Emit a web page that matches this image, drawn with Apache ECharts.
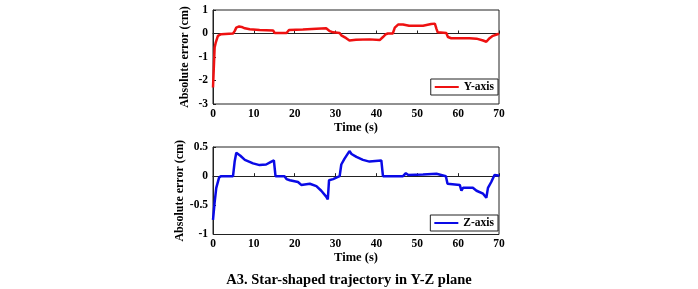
<!DOCTYPE html>
<html>
<head>
<meta charset="utf-8">
<script src="https://cdn.jsdelivr.net/npm/echarts@6/dist/echarts.min.js"></script>
<style>
  html, body { margin: 0; padding: 0; background: #fff; }
  #chart { width: 698px; height: 289px; }
</style>
</head>
<body>
<div id="chart"></div>
<script>
// Y-axis error, [time s, error cm]
const yErr = [
  [0, -2.3], [0.2, -2.3], [0.4, -0.6], [0.65, -0.4], [1.2, -0.1], [2, -0.03], [4.9, 0.0],
  [5.3, 0.1], [5.7, 0.25], [6.4, 0.3], [7, 0.28], [7.8, 0.22], [9, 0.18], [11.4, 0.15],
  [14.7, 0.13], [15.1, 0.02], [18, 0.02], [18.6, 0.15], [22, 0.17], [25.3, 0.2], [27.7, 0.22],
  [28.1, 0.25], [28.6, 0.1], [29.4, 0.05], [31, 0.02], [31.4, -0.08], [32.6, -0.2], [33.4, -0.3],
  [35, -0.27], [38.3, -0.25], [40.8, -0.28], [41.2, -0.35], [41.6, -0.15], [42.3, -0.03],
  [42.8, 0.0], [44, 0.0], [44.5, 0.25], [45.3, 0.38], [45.7, 0.42], [46.5, 0.38], [48, 0.33],
  [51.4, 0.33], [53.4, 0.4], [54.3, 0.42], [54.7, 0.2], [55, 0.05], [57.1, 0.02], [57.5, -0.15],
  [58.3, -0.2], [62.8, -0.2], [64.5, -0.22], [66.1, -0.3], [66.9, -0.35], [67.3, -0.42],
  [67.7, -0.2], [68.5, -0.1], [69.8, -0.02], [70, 0.0]
];
// Z-axis error, [time s, error cm]
const zErr = [
  [0, -0.75], [0.4, -0.45], [0.8, -0.2], [1.5, -0.02], [2, 0.0], [4.9, 0.0], [5.3, 0.25],
  [5.7, 0.4], [6.1, 0.43], [6.7, 0.35], [7.8, 0.28], [9.8, 0.22], [11.4, 0.19], [13, 0.2],
  [14.3, 0.25], [14.9, 0.27], [15.3, 0.0], [17.5, 0.0], [18, -0.05], [18.8, -0.07], [20.8, -0.1],
  [21.6, -0.15], [23.7, -0.13], [25.3, -0.17], [26.5, -0.25], [27.7, -0.35], [28.1, -0.4],
  [28.4, -0.07], [29.4, -0.05], [31, 0.0], [31.4, 0.2], [32.2, 0.3], [33.4, 0.43], [33.9, 0.38],
  [35.1, 0.33], [36.7, 0.28], [38.3, 0.25], [41.2, 0.27], [41.6, 0.0], [46.5, 0.0], [47.2, 0.05],
  [47.8, 0.02], [51.4, 0.03], [54.7, 0.04], [57, 0.0], [57.4, -0.13], [60.4, -0.15], [60.8, -0.25],
  [61.2, -0.2], [63.6, -0.2], [64.5, -0.25], [66.1, -0.3], [66.9, -0.37], [67.3, -0.2],
  [68.1, -0.1], [68.9, 0.02], [69.3, 0.0], [69.8, 0.01], [70, 0.0]
];
const seriesNames = ['Y-axis', 'Z-axis'];
const seriesColors = ['#ee1111', '#0a0ae6'];
const chartTitle = 'A3. Star-shaped trajectory in Y-Z plane';

const font = 'Liberation Serif';
const chart = echarts.init(document.getElementById('chart'));

function xAxisFor(gridIndex) {
  return {
    type: 'value', gridIndex: gridIndex, min: 0, max: 70, interval: 10,
    name: 'Time (s)', nameLocation: 'middle', nameGap: 17,
    nameTextStyle: { fontFamily: font, fontWeight: 'bold', fontSize: 12.5, color: '#000' },
    axisLine: { show: true, lineStyle: { color: '#222', width: 1 } },
    axisTick: { inside: true, length: 3, lineStyle: { color: '#222' } },
    axisLabel: { fontFamily: font, fontWeight: 'bold', fontSize: 11.5, color: '#000', margin: 4 },
    splitLine: { show: false }
  };
}
function yAxisFor(gridIndex, min, max, interval) {
  return {
    type: 'value', gridIndex: gridIndex, min: min, max: max, interval: interval,
    name: 'Absolute error (cm)', nameLocation: 'middle', nameGap: 22,
    nameTextStyle: { fontFamily: font, fontWeight: 'bold', fontSize: 12, color: '#000' },
    axisLine: { show: true, lineStyle: { color: '#222', width: 1 } },
    axisTick: { inside: true, length: 3, lineStyle: { color: '#222' } },
    axisLabel: { fontFamily: font, fontWeight: 'bold', fontSize: 11.5, color: '#000', margin: 5 },
    splitLine: { show: false }
  };
}

const legendBase = {
  right: 200, borderColor: '#222', borderWidth: 1, padding: [2, 4],
  itemWidth: 24, itemHeight: 2, icon: 'rect',
  textStyle: { fontFamily: font, fontWeight: 'bold', fontSize: 11.5, color: '#000' }
};

const option = {
  animation: false,
  backgroundColor: '#fff',
  title: {
    text: chartTitle, left: 'center', top: 268,
    textStyle: { fontFamily: font, fontWeight: 'bold', fontSize: 14.5, color: '#000' }
  },
  grid: [
    { left: 213, top: 10, width: 286, height: 94, show: true, borderColor: '#222', borderWidth: 1 },
    { left: 213, top: 147, width: 286, height: 87.5, show: true, borderColor: '#222', borderWidth: 1 }
  ],
  xAxis: [xAxisFor(0), xAxisFor(1)],
  yAxis: [yAxisFor(0, -3, 1, 1), yAxisFor(1, -1, 0.5, 0.5)],
  legend: [
    Object.assign({ data: [seriesNames[0]], top: 79 }, legendBase),
    Object.assign({ data: [seriesNames[1]], top: 215 }, legendBase)
  ],
  series: [
    {
      name: seriesNames[0], type: 'line', xAxisIndex: 0, yAxisIndex: 0, data: yErr,
      symbol: 'none', color: seriesColors[0], lineStyle: { width: 2.5 }
    },
    {
      name: seriesNames[1], type: 'line', xAxisIndex: 1, yAxisIndex: 1, data: zErr,
      symbol: 'none', color: seriesColors[1], lineStyle: { width: 2.5 }
    }
  ]
};

chart.setOption(option);
</script>
</body>
</html>
